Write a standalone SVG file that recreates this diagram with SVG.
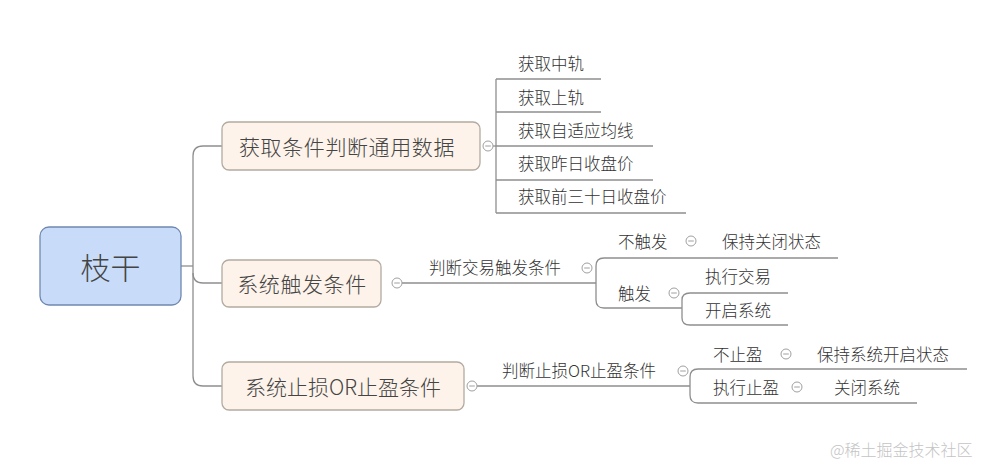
<svg xmlns="http://www.w3.org/2000/svg" width="997" height="467" viewBox="0 0 997 467">
<style>
text{font-family:"Noto Sans CJK SC","Noto Sans",sans-serif;fill:#333;dominant-baseline:central;font-weight:300}
.ln{fill:none;stroke:#8e8e8e;stroke-width:1.3}
.nd{fill:#fdf3ea;stroke:#b3aaa0;stroke-width:1.3}
.big{font-size:21px;fill:#444}
.sm{font-size:16.5px}
</style>
<defs>
<g id="col"><circle r="5" fill="#fff" stroke="#a0a0a0" stroke-width="1"/><line x1="-2.8" y1="0" x2="2.8" y2="0" stroke="#a0a0a0" stroke-width="1"/></g>
</defs>
<rect width="997" height="467" fill="#fff"/>
<g id="connectors">
<path class="ln" d="M181 266 H193"/>
<path class="ln" d="M222 146 H203 Q193 146 193 156 V376 Q193 386 203 386 H222"/>
<path class="ln" d="M193 273 Q193 283 203 283 H222"/>
<path class="ln" d="M493 146 H496"/>
<path class="ln" d="M496 79 V213"/>
<path class="ln" d="M496 79 H601"/>
<path class="ln" d="M496 112 H601"/>
<path class="ln" d="M496 146 H653"/>
<path class="ln" d="M496 180 H653"/>
<path class="ln" d="M496 213 H686"/>
<path class="ln" d="M402 283 H596"/>
<path class="ln" d="M838 258 H604 Q596 258 596 266 V300 Q596 308 604 308 H682"/>
<path class="ln" d="M788 293 H690 Q682 293 682 300 V318 Q682 325 690 325 H788"/>
<path class="ln" d="M477 386 H690"/>
<path class="ln" d="M967 369 H698 Q690 369 690 377 V395 Q690 403 698 403 H917"/>
</g>
<g id="root">
<rect x="40" y="227" width="141" height="78" rx="9" fill="#c8dcfa" stroke="#7088b0" stroke-width="1.3"/>
<text x="110.5" y="266" text-anchor="middle" style="font-size:30px;fill:#444">枝干</text>
</g>
<g id="n1">
<rect class="nd" x="222" y="122" width="258" height="48" rx="7"/>
<text class="big" x="347" y="146" text-anchor="middle" letter-spacing="0.6">获取条件判断通用数据</text>
<use href="#col" x="488" y="146"/>
</g>
<g id="n1c1"><text class="sm" x="518" y="63">获取中轨</text></g>
<g id="n1c2"><text class="sm" x="518" y="97">获取上轨</text></g>
<g id="n1c3"><text class="sm" x="518" y="130">获取自适应均线</text></g>
<g id="n1c4"><text class="sm" x="518" y="163">获取昨日收盘价</text></g>
<g id="n1c5"><text class="sm" x="518" y="196">获取前三十日收盘价</text></g>
<g id="n2">
<rect class="nd" x="222" y="260" width="159" height="47" rx="7"/>
<text class="big" x="302" y="283" text-anchor="middle" letter-spacing="0.6">系统触发条件</text>
<use href="#col" x="397" y="283"/>
</g>
<g id="n2a">
<text class="sm" x="429" y="267">判断交易触发条件</text>
<use href="#col" x="587" y="268"/>
</g>
<g id="n2b">
<text class="sm" x="618" y="241">不触发</text>
<use href="#col" x="691" y="241"/>
</g>
<g id="n2b1"><text class="sm" x="722" y="241">保持关闭状态</text></g>
<g id="n2c">
<text class="sm" x="618" y="293">触发</text>
<use href="#col" x="674" y="293"/>
</g>
<g id="n2c1"><text class="sm" x="705" y="276">执行交易</text></g>
<g id="n2c2"><text class="sm" x="705" y="310">开启系统</text></g>
<g id="n3">
<rect class="nd" x="222" y="362" width="242" height="48" rx="7"/>
<text class="big" x="343" y="386" text-anchor="middle">系统止损OR止盈条件</text>
<use href="#col" x="472" y="386"/>
</g>
<g id="n3a">
<text class="sm" x="502" y="370">判断止损OR止盈条件</text>
<use href="#col" x="683" y="371"/>
</g>
<g id="n3b">
<text class="sm" x="713" y="354">不止盈</text>
<use href="#col" x="786" y="354"/>
</g>
<g id="n3b1"><text class="sm" x="817" y="354">保持系统开启状态</text></g>
<g id="n3c">
<text class="sm" x="713" y="387">执行止盈</text>
<use href="#col" x="797" y="387"/>
</g>
<g id="n3c1"><text class="sm" x="834" y="387">关闭系统</text></g>
<text x="830" y="449" style="font-size:16px;fill:#c4c4c4">@稀土掘金技术社区</text>
</svg>
